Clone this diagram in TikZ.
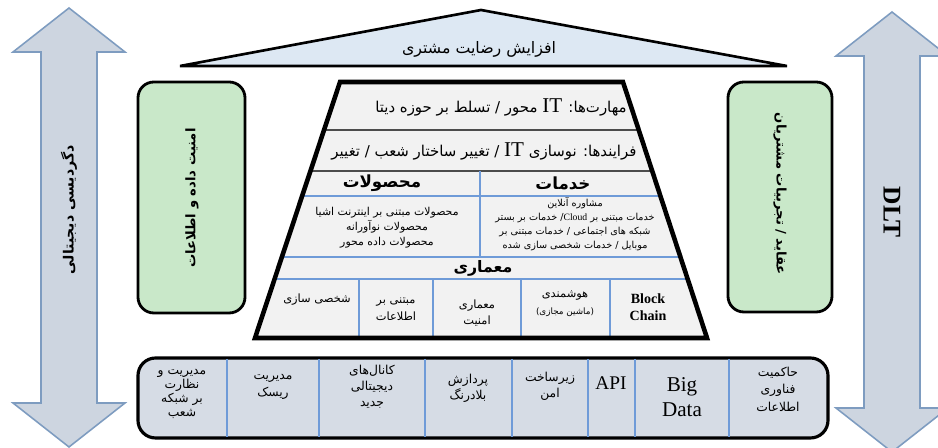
\documentclass[tikz,border=0pt]{standalone}
\usepackage{fontspec}
\setmainfont{Liberation Serif}
\newfontfamily\arabicfont[Script=Arabic]{DejaVu Sans}
\TeXXeTstate=1
\newcommand{\fa}[1]{{\arabicfont\beginR #1\endR}}
\newcommand{\lat}[1]{\beginL{\rmfamily #1}\endL{}}
\definecolor{arrowfill}{HTML}{CDD5E0}
\definecolor{arrowline}{HTML}{7E9CC0}
\definecolor{sidegreen}{HTML}{C9E8C9}
\definecolor{roofblue}{HTML}{DDE8F3}
\definecolor{housegray}{HTML}{F2F2F2}
\definecolor{barfill}{HTML}{D6DCE5}
\definecolor{cellline}{HTML}{6F9BD8}
\tikzset{
	arrowbody/.style={fill=arrowfill, draw=arrowline, line width=0.9pt},
	sidebox/.style={fill=sidegreen, draw=black, line width=1.6pt, rounded corners=9pt},
	blueline/.style={draw=cellline, line width=0.8pt},
	txt/.style={inner sep=0pt, align=center},
	rowtext/.style={txt, font=\fontsize{8.5}{10}\selectfont},
	headtext/.style={txt, font=\fontsize{9.5}{12}\selectfont\bfseries},
	notetext/.style={txt, font=\fontsize{5.5}{8}\selectfont},
	archtext/.style={txt, font=\fontsize{6.5}{9.5}\selectfont},
	bartext/.style={txt, font=\fontsize{7}{9}\selectfont},
	sidetext/.style={txt, font=\fontsize{7.5}{9}\selectfont\bfseries}
}
\begin{document}
\begin{tikzpicture}[x=0.02cm, y=-0.02cm]
	\useasboundingbox (0,0) rectangle (938,448);
	\clip (0,0) rectangle (938,448);
	\foreach \cx/\ty/\by in {69/8/447, 892/12/452}{
		\draw[arrowbody] (\cx,\ty) -- (\cx+56,\ty+44) -- (\cx+28,\ty+44) -- (\cx+28,\by-44) -- (\cx+56,\by-44) -- (\cx,\by)
			-- (\cx-56,\by-44) -- (\cx-28,\by-44) -- (\cx-28,\ty+44) -- (\cx-56,\ty+44) -- cycle;
	}
	\node[sidetext, rotate=90, font=\fontsize{8}{10}\selectfont\bfseries] (digital) at (69,210) {\fa{دگردیسی دیجیتالی}};
	\node[txt, rotate=-90, font=\fontsize{14.5}{16}\selectfont\bfseries] (dlt) at (892,212) {DLT};
	\draw[fill=roofblue, line width=1.5pt] (180,66) -- (481,10) -- (787,66) -- cycle;
	\node[txt, font=\fontsize{9}{11}\selectfont] (satisfaction) at (479,49) {\fa{افزایش رضایت مشتری}};
	\draw[sidebox] (138,82) rectangle (245,313);
	\node[sidetext, rotate=90] (security) at (192,198) {\fa{امنیت داده و اطلاعات}};
	\draw[sidebox] (728,82) rectangle (832,312);
	\node[sidetext, rotate=-90] (beliefs) at (780,194) {\fa{عقاید / تجربیات مشتریان}};
	\fill[housegray] (340,82) -- (623,82) -- (707,338) -- (255,338) -- cycle;
	\begin{scope}
		\clip (340,82) -- (623,82) -- (707,338) -- (255,338) -- cycle;
		\draw[line width=0.8pt, black!70] (250,130) -- (720,130);
		\draw[line width=0.8pt, black!70] (250,171) -- (720,171);
		\foreach \y in {196,257,279}
			\draw[blueline] (250,\y) -- (720,\y);
		\draw[blueline] (480,171) -- (480,257);
		\foreach \x in {359,433,521,610}
			\draw[blueline] (\x,279) -- (\x,340);
	\end{scope}
	\draw[line width=2.6pt, line join=miter] (340,82) -- (623,82) -- (707,338) -- (255,338) -- cycle;
	\node[rowtext] (skills) at (501,107) {\fa{مهارت‌ها:  \lat{\large IT} محور / تسلط بر حوزه دیتا}};
	\node[rowtext] (processes) at (484,151) {\fa{فرایندها: نوسازی \lat{\large IT} / تغییر ساختار شعب / تغییر}};
	\node[headtext] (products) at (382,183) {\fa{محصولات}};
	\node[headtext] (services) at (563,183) {\fa{خدمات}};
	\node[notetext, font=\fontsize{6.2}{8.5}\selectfont] (productlist) at (387,228) {\fa{محصولات مبتنی بر اینترنت اشیا}\\\fa{محصولات نوآورانه}\\\fa{محصولات داده محور}};
	\node[notetext] (servicelist) at (575,224) {\fa{مشاوره آنلاین}\\\fa{خدمات مبتنی بر \lat{Cloud}/ خدمات بر بستر}\\\fa{شبکه های اجتماعی / خدمات مبتنی بر}\\\fa{موبایل / خدمات شخصی سازی شده}};
	\node[headtext, font=\fontsize{9}{11}\selectfont\bfseries] (architecture) at (483,268) {\fa{معماری}};
	\node[archtext] (personal) at (317,300) {\fa{شخصی سازی}};
	\node[archtext] (infobased) at (396,309) {\fa{مبتنی بر}\\\fa{اطلاعات}};
	\node[archtext] (secarch) at (477,313) {\fa{معماری}\\\fa{امنیت}};
	\node[archtext] (smart) at (565,304) {\fa{هوشمندی}\\{\fontsize{5}{6}\selectfont\fa{(ماشین مجازی)}}};
	\node[txt, font=\fontsize{8}{9.5}\selectfont\bfseries] (blockchain) at (648,307) {Block\\Chain};
	\draw[fill=barfill, line width=1.8pt, rounded corners=10pt] (138,358) rectangle (828,438);
	\foreach \x in {227,319,425,512,588,635,729}
		\draw[blueline] (\x,359) -- (\x,437);
	\node[bartext, font=\fontsize{7}{8}\selectfont] (network) at (182,394) {\fa{مدیریت و}\\\fa{نظارت}\\\fa{بر شبکه}\\\fa{شعب}};
	\node[bartext, font=\fontsize{7}{9.5}\selectfont] (risk) at (273,387) {\fa{مدیریت}\\\fa{ریسک}};
	\node[bartext] (channels) at (372,387) {\fa{کانال‌های}\\\fa{دیجیتالی}\\\fa{جدید}};
	\node[bartext] (realtime) at (468,388) {\fa{پردازش}\\\fa{بلادرنگ}};
	\node[bartext] (infra) at (550,386) {\fa{زیرساخت}\\\fa{امن}};
	\node[txt, font=\fontsize{11}{13}\selectfont] (api) at (611,383) {API};
	\node[txt, font=\fontsize{12}{14}\selectfont] (bigdata) at (682,397) {Big\\Data};
	\node[bartext, font=\fontsize{7}{10}\selectfont] (governance) at (778,389) {\fa{حاکمیت}\\\fa{فناوری}\\\fa{اطلاعات}};
\end{tikzpicture}
\end{document}
